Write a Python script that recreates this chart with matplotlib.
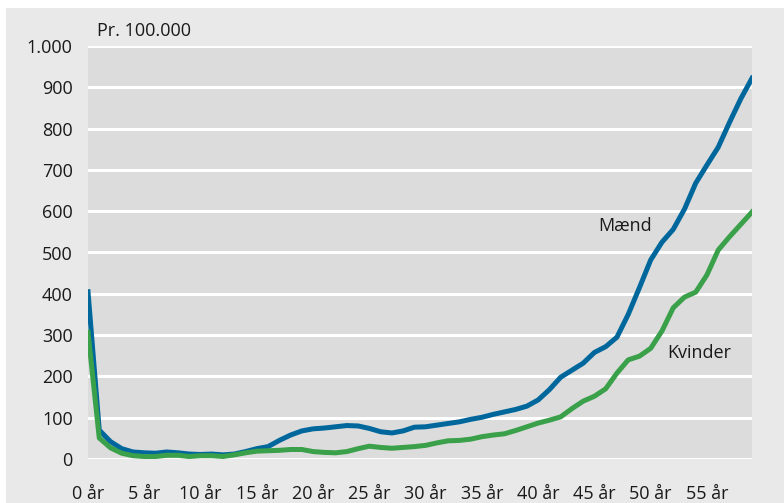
import matplotlib.pyplot as plt
from matplotlib.patches import Rectangle

# Dødelighed pr. 100.000 efter alder
ages = list(range(0, 60))
maend = [
    405, 70, 42, 25, 17, 15, 14, 17, 15, 12,
    11, 12, 10, 12, 18, 25, 30, 45, 58, 68,
    73, 75, 78, 81, 80, 74, 66, 63, 68, 77,
    78, 82, 86, 90, 96, 101, 108, 114, 120, 128,
    143, 168, 198, 215, 232, 258, 272, 295, 350, 415,
    482, 525, 556, 605, 668, 712, 755, 815, 872, 922,
]
kvinder = [
    307, 51, 27, 14, 8, 6, 6, 9, 9, 6,
    8, 8, 6, 10, 15, 19, 20, 21, 23, 23,
    18, 16, 15, 18, 25, 31, 28, 26, 28, 30,
    33, 39, 44, 45, 48, 54, 58, 61, 69, 78,
    87, 94, 102, 122, 140, 152, 170, 208, 240, 249,
    268, 310, 366, 392, 404, 446, 506, 538, 568, 598,
]
x_ticks = list(range(0, 60, 5))
x_labels = [f"{a} år" for a in x_ticks]
y_ticks = list(range(0, 1001, 100))
y_labels = ["0", "100", "200", "300", "400", "500", "600", "700", "800", "900", "1.000"]

plt.rcParams["font.family"] = ["Open Sans", "DejaVu Sans"]
plt.rcParams["font.size"] = 13

BLUE = "#00679c"
GREEN = "#3aa04a"
TEXT = "#1a1a1a"

fig = plt.figure(figsize=(7.84, 5.03), dpi=100, facecolor="white")
# grey panel behind everything, leaving a thin white border top and left
fig.patches.append(
    Rectangle((6 / 784, 0), 1, 1 - 8 / 503, transform=fig.transFigure,
              facecolor="#e9e9e9", edgecolor="none", zorder=-10)
)

ax = fig.add_axes([88 / 784, (503 - 459) / 503, (752 - 88) / 784, (459 - 46) / 503])
ax.set_facecolor("#dcdcdc")

ax.plot(ages, maend, color=BLUE, lw=3.6, solid_joinstyle="round", zorder=3)
ax.plot(ages, kvinder, color=GREEN, lw=3.6, solid_joinstyle="round", zorder=3)

ax.set_xlim(0, 59)
ax.set_ylim(0, 1000)
ax.set_yticks(y_ticks)
ax.set_yticklabels(y_labels)
ax.set_xticks(x_ticks)
ax.set_xticklabels(x_labels)
ax.tick_params(axis="both", length=0, colors=TEXT, labelsize=13)
ax.tick_params(axis="y", pad=11)
ax.tick_params(axis="x", pad=19)

ax.grid(axis="y", color="white", lw=2.2, zorder=1)
ax.set_axisbelow(True)
for s in ax.spines.values():
    s.set_visible(False)

ax.text(47.7, 564, "Mænd", fontsize=13, color=TEXT, ha="center", va="center")
ax.text(54.3, 257, "Kvinder", fontsize=13, color=TEXT, ha="center", va="center")
ax.text(0.8, 1015, "Pr. 100.000", fontsize=13, color=TEXT, ha="left", va="bottom")

fig.savefig("out.png", dpi=100, facecolor=fig.get_facecolor())
